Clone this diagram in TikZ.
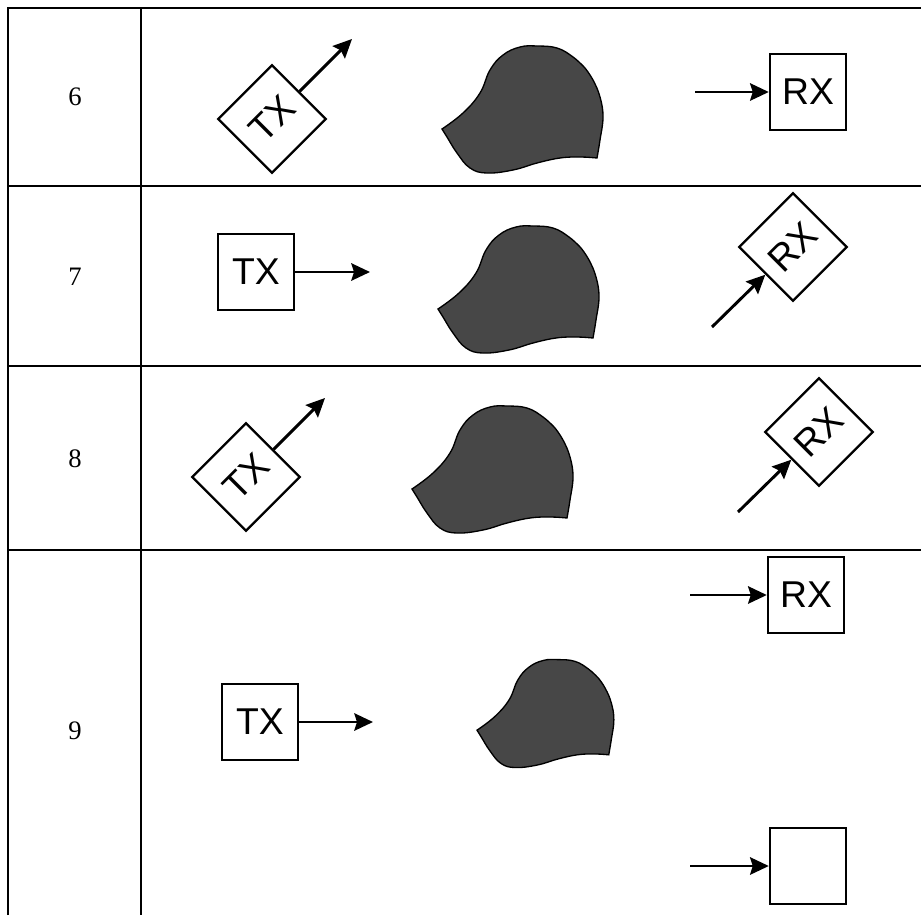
\documentclass[tikz,border=0pt]{standalone}
\usepackage{fontspec}
\setmainfont{Liberation Serif}
\newfontfamily\unitfont{Liberation Sans}
\usetikzlibrary{arrows.meta}

\tikzset{
  unit/.style={draw, line width=1.8pt, minimum size=57pt, inner sep=0pt,
    font=\unitfont\fontsize{28}{28}\selectfont},
  sig/.style={line width=2.2pt, -{Stealth[length=14pt,width=13pt,inset=2pt]}},
  blob/.style={draw=black, line width=1pt, fill=black!72},
  rule/.style={line width=1.8pt},
  rowno/.style={font=\fontsize{20}{20}\selectfont}
}

\newcommand{\blobpath}{%
  plot[smooth, tension=0.7] coordinates {(-80,19) (-59,3) (-42,-17) (-32,-40) (-19,-55)
    (-2,-63) (15,-64) (35,-62) (51,-53) (63,-42)}
  -- plot[smooth, tension=0.7] coordinates {(63,-42) (71,-30) (78,-13) (81,7) (78,30) (75,48)}
  -- plot[smooth, tension=0.7] coordinates {(75,48) (58,47) (38,48) (15,53) (-9,60)
    (-35,63) (-52,58) (-65,43) (-75,27) (-80,19)} -- cycle}

\begin{document}
\begin{tikzpicture}[x=0.75pt, y=-0.75pt]
\useasboundingbox (0,0) rectangle (921,915);

% table
\draw[rule] (8,915) -- (8,8) -- (921,8);
\draw[rule] (141,8) -- (141,915);
\foreach \y in {186,366,550}
    \draw[rule] (8,\y) -- (921,\y);

\foreach \n/\y in {6/97,7/277,8/459,9/731}
    \node[rowno] (row\n) at (75,\y) {\n};

% obstacles
\foreach \cx/\cy/\s in {522/110/1, 518/290/1, 492/470/1, 545/714/0.85}
    \draw[blob, shift={(\cx,\cy)}, scale=\s] \blobpath;

% row 6
\node[unit, rotate=45] (tx6) at (272,119) {TX};
\coordinate (tx6out) at (352,39);
\draw[sig] (tx6.east) -- (tx6out);
\node[unit] (rx6) at (808,92) {RX};
\coordinate (rx6in) at (695,92);
\draw[sig] (rx6in) -- (rx6);

% row 7
\node[unit] (tx7) at (256,272) {TX};
\coordinate (tx7out) at (370,272);
\draw[sig] (tx7) -- (tx7out);
\node[unit, rotate=45] (rx7) at (793,247) {RX};
\coordinate (rx7in) at (712,327);
\draw[sig] (rx7in) -- (rx7.west);

% row 8
\node[unit, rotate=45] (tx8) at (246,477) {TX};
\coordinate (tx8out) at (325,398);
\draw[sig] (tx8.east) -- (tx8out);
\node[unit, rotate=45] (rx8) at (819,432) {RX};
\coordinate (rx8in) at (738,512);
\draw[sig] (rx8in) -- (rx8.west);

% row 9
\node[unit] (tx9) at (260,722) {TX};
\coordinate (tx9out) at (373,722);
\draw[sig] (tx9) -- (tx9out);
\node[unit] (rx9) at (806,595) {RX};
\coordinate (rx9in) at (690,595);
\draw[sig] (rx9in) -- (rx9);
\node[unit] (rx9b) at (808,866) {};
\coordinate (rx9bin) at (690,866);
\draw[sig] (rx9bin) -- (rx9b);

\end{tikzpicture}
\end{document}
